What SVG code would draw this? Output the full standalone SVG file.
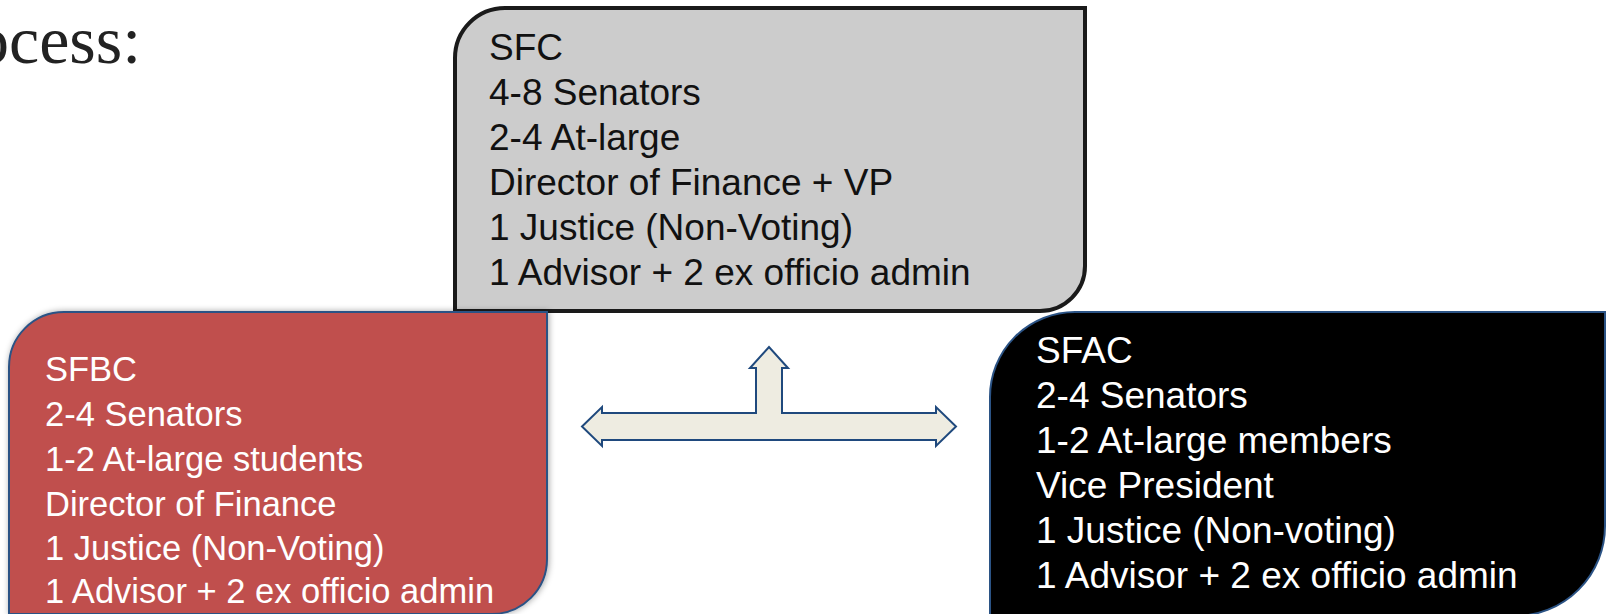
<svg xmlns="http://www.w3.org/2000/svg" width="1608" height="614" viewBox="0 0 1608 614">
  <defs>
    <filter id="sh" x="-5%" y="-5%" width="110%" height="110%">
      <feDropShadow dx="1" dy="0" stdDeviation="3" flood-color="#000" flood-opacity="0.35"/>
    </filter>
    <style>
      .t { font-family: "Liberation Sans", Arial, sans-serif; font-size: 37px; }
      .dark { fill: #111111; }
      .light { fill: #ffffff; }
      .title { font-family: "Liberation Serif", "Times New Roman", serif; font-size: 68px; fill: #222222; }
    </style>
  </defs>
  <rect width="1608" height="614" fill="#ffffff"/>
  <text class="title" x="-25" y="63">ocess:</text>

  <g id="sfc">
    <path d="M455,58 A50,50 0 0 1 505,8 H1085 V266 A45,45 0 0 1 1040,311 H455 Z" fill="#cccccc" stroke="#1a1a1a" stroke-width="4"/>
    <text class="t dark">
      <tspan x="489" y="60">SFC</tspan>
      <tspan x="489" y="105">4-8 Senators</tspan>
      <tspan x="489" y="150">2-4 At-large</tspan>
      <tspan x="489" y="195">Director of Finance + VP</tspan>
      <tspan x="489" y="240">1 Justice (Non-Voting)</tspan>
      <tspan x="489" y="285">1 Advisor + 2 ex officio admin</tspan>
    </text>
  </g>

  <g id="sfbc">
    <path d="M9,367 A55,55 0 0 1 64,312 H547 V559 A55,55 0 0 1 492,614 H9 Z" fill="#c0504d" stroke="#2b5385" stroke-width="2" filter="url(#sh)"/>
    <text class="t light" style="font-size:34.5px">
      <tspan x="45" y="381">SFBC</tspan>
      <tspan x="45" y="426">2-4 Senators</tspan>
      <tspan x="45" y="471">1-2 At-large students</tspan>
      <tspan x="45" y="516">Director of Finance</tspan>
      <tspan x="45" y="560">1 Justice (Non-Voting)</tspan>
      <tspan x="45" y="603">1 Advisor + 2 ex officio admin</tspan>
    </text>
  </g>

  <g id="sfac">
    <path d="M990,397 A85,85 0 0 1 1075,312 H1605 V526 A90,90 0 0 1 1515,616 H990 Z" fill="#000000" stroke="#2b5385" stroke-width="2"/>
    <text class="t light">
      <tspan x="1036" y="363">SFAC</tspan>
      <tspan x="1036" y="408">2-4 Senators</tspan>
      <tspan x="1036" y="453">1-2 At-large members</tspan>
      <tspan x="1036" y="498">Vice President</tspan>
      <tspan x="1036" y="543">1 Justice (Non-voting)</tspan>
      <tspan x="1036" y="588">1 Advisor + 2 ex officio admin</tspan>
    </text>
  </g>

  <g id="connectors">
    <path d="M582,426.5 L602,407 L602,413 L756,413 L756,368 L750,368 L769,347 L788,368 L782,368 L782,413 L936,413 L936,407 L956,426.5 L936,446 L936,440 L602,440 L602,446 Z" fill="#eeece1" stroke="#1f497d" stroke-width="2" stroke-linejoin="miter"/>
  </g>
</svg>
